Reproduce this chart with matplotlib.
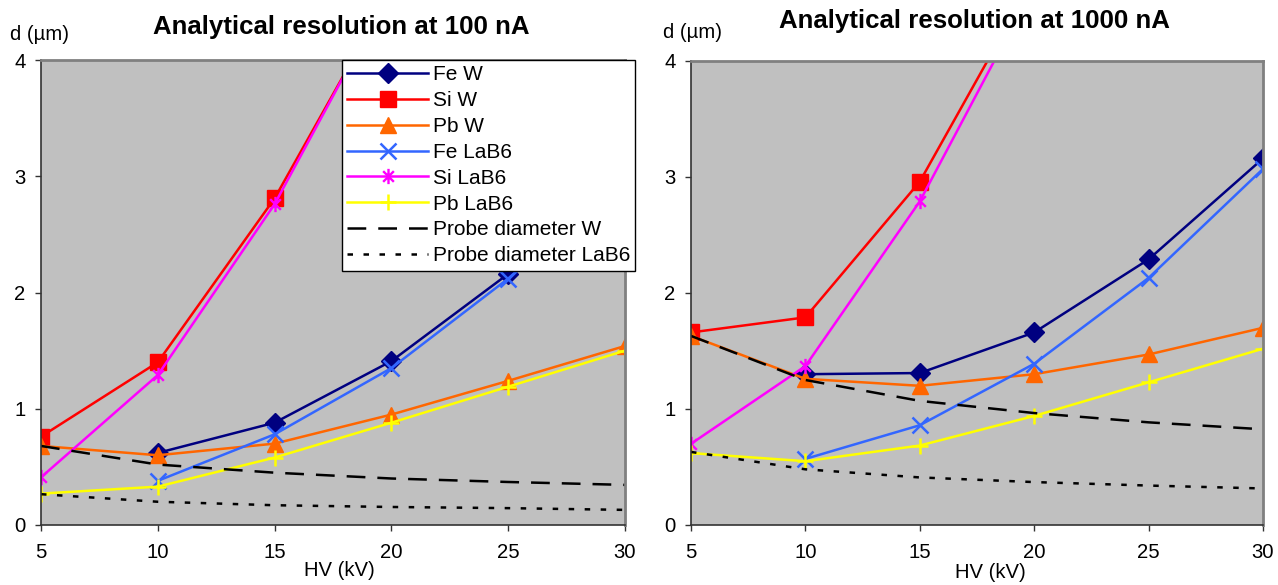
import numpy as np
import matplotlib
matplotlib.use("Agg")
import matplotlib.pyplot as plt
from matplotlib.path import Path

plt.rcParams['font.family'] = ['Liberation Sans', 'DejaVu Sans']

hv = [5, 10, 15, 20, 25, 30]
nan = np.nan

# 100 nA
fe_w_100 = [nan, 0.62, 0.88, 1.41, 2.16, 3.10]
si_w_100 = [0.76, 1.40, 2.81, 4.60, nan, nan]
pb_w_100 = [0.68, 0.60, 0.70, 0.95, 1.24, 1.54]
fe_lab6_100 = [nan, 0.38, 0.78, 1.35, 2.12, 3.00]
si_lab6_100 = [0.41, 1.29, 2.76, 4.62, nan, nan]
pb_lab6_100 = [0.27, 0.33, 0.58, 0.88, 1.19, 1.50]
probe_w_100 = [0.68, 0.52, 0.45, 0.40, 0.37, 0.345]
probe_lab6_100 = [0.265, 0.20, 0.17, 0.155, 0.145, 0.13]

# 1000 nA
fe_w_1000 = [nan, 1.30, 1.31, 1.66, 2.29, 3.16]
si_w_1000 = [1.66, 1.79, 2.96, 4.72, nan, nan]
pb_w_1000 = [1.63, 1.26, 1.20, 1.30, 1.47, 1.70]
fe_lab6_1000 = [nan, 0.57, 0.86, 1.39, 2.13, 3.07]
si_lab6_1000 = [0.70, 1.37, 2.79, 4.65, nan, nan]
pb_lab6_1000 = [0.62, 0.55, 0.685, 0.94, 1.23, 1.52]
probe_w_1000 = [1.63, 1.25, 1.07, 0.965, 0.885, 0.825]
probe_lab6_1000 = [0.63, 0.48, 0.41, 0.37, 0.34, 0.315]

labels = ['Fe W', 'Si W', 'Pb W', 'Fe LaB6', 'Si LaB6', 'Pb LaB6',
          'Probe diameter W', 'Probe diameter LaB6']

# excel-style star: an x with a vertical bar through it
star = Path([(0, -1), (0, 1), (-0.7, -0.7), (0.7, 0.7), (-0.7, 0.7), (0.7, -0.7)],
            [Path.MOVETO, Path.LINETO] * 3)

W, H = 1278, 585
fig = plt.figure(figsize=(W / 100, H / 100), dpi=100)


def px_axes(x0, x1, y0, y1):
    return fig.add_axes([x0 / W, 1 - y1 / H, (x1 - x0) / W, (y1 - y0) / H])


def draw(ax, series, title, title_xy, dlabel_xy, hv_xy):
    fe_w, si_w, pb_w, fe_l, si_l, pb_l, pr_w, pr_l = series
    ax.set_facecolor('#C0C0C0')
    lw = 1.8
    ax.plot(hv, fe_w, color='#000080', lw=lw, marker='D', ms=10, label=labels[0])
    ax.plot(hv, si_w, color='#FF0000', lw=lw, marker='s', ms=11, label=labels[1])
    ax.plot(hv, pb_w, color='#FF6600', lw=lw, marker='^', ms=12, label=labels[2])
    ax.plot(hv, fe_l, color='#3366FF', lw=lw, marker='x', ms=11, mew=1.8, label=labels[3])
    ax.plot(hv, si_l, color='#FF00FF', lw=lw, marker=star, ms=11, mew=1.7, label=labels[4])
    ax.plot(hv, pb_l, color='#FFFF00', lw=lw, marker='+', ms=11.5, mew=1.8, label=labels[5])
    ax.plot(hv, pr_w, color='black', lw=1.8, dashes=(7.5, 4.8), label=labels[6])
    ax.plot(hv, pr_l, color='black', lw=1.8, dashes=(2.2, 4.2), label=labels[7])
    ax.set_xlim(5, 30)
    ax.set_ylim(0, 4)
    ax.set_xticks(hv)
    ax.set_yticks([0, 1, 2, 3, 4])
    ax.tick_params(direction='out', length=4.5, width=1, labelsize=14.6,
                   color='#333333')
    ax.tick_params(axis='x', pad=8.5)
    ax.tick_params(axis='y', pad=6.5)
    for s in ['left', 'bottom']:
        ax.spines[s].set_color('#333333')
        ax.spines[s].set_linewidth(1.2)
    for s in ['top', 'right']:
        ax.spines[s].set_color('#808080')
        ax.spines[s].set_linewidth(2)
    fig.text(title_xy[0] / W, 1 - title_xy[1] / H, title, ha='center', va='center',
             fontsize=18.6, fontweight='bold')
    fig.text(dlabel_xy[0] / W, 1 - dlabel_xy[1] / H, 'd (µm)', ha='left', va='center',
             fontsize=14.6)
    fig.text(hv_xy[0] / W, 1 - hv_xy[1] / H, 'HV (kV)', ha='center', va='center',
             fontsize=14.6)


ax1 = px_axes(41, 625, 60, 525)
ax2 = px_axes(691, 1263, 61, 525)

draw(ax1, [fe_w_100, si_w_100, pb_w_100, fe_lab6_100, si_lab6_100, pb_lab6_100,
           probe_w_100, probe_lab6_100],
     'Analytical resolution at 100 nA', (341, 27), (10, 35), (339, 571))
draw(ax2, [fe_w_1000, si_w_1000, pb_w_1000, fe_lab6_1000, si_lab6_1000, pb_lab6_1000,
           probe_w_1000, probe_lab6_1000],
     'Analytical resolution at 1000 nA', (974, 21), (663, 32), (990, 573))

leg = ax1.legend(loc='upper left', bbox_to_anchor=(342 / W, 1 - 60 / H),
                 bbox_transform=fig.transFigure, fontsize=15, frameon=True,
                 fancybox=False, framealpha=1, edgecolor='black',
                 handlelength=3.9, handletextpad=0.2, labelspacing=0.33,
                 borderpad=0.25, borderaxespad=0)
leg.get_frame().set_linewidth(1)
leg.set_clip_on(False)

fig.savefig('out.png', dpi=100)
